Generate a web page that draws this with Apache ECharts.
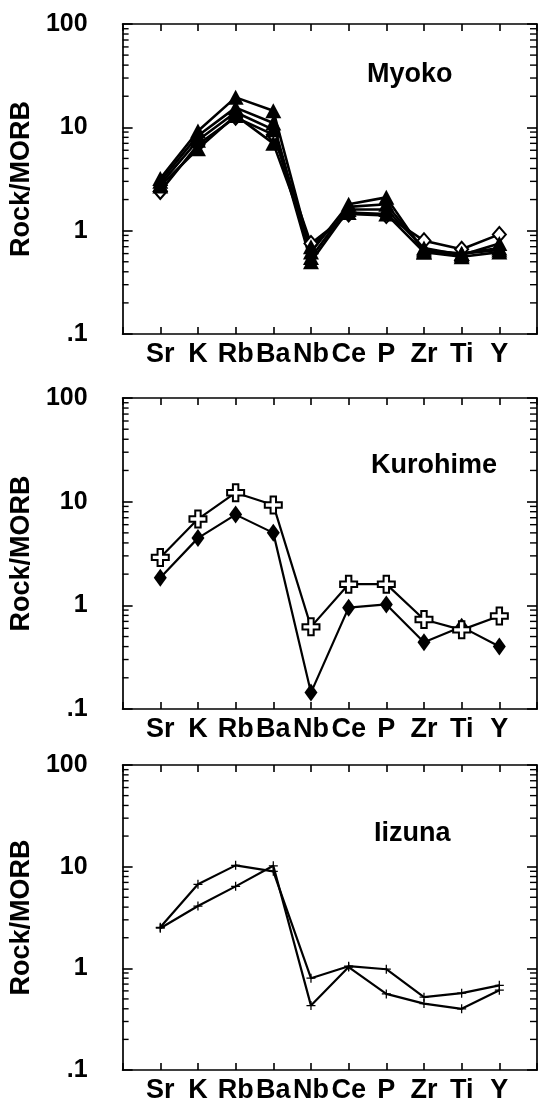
<!DOCTYPE html>
<html>
<head>
<meta charset="utf-8">
<script src="https://cdn.jsdelivr.net/npm/echarts@6/dist/echarts.min.js"></script>
<style>
  html, body { margin: 0; padding: 0; background: #fff; }
  #chart { width: 540px; height: 1104px; }
</style>
</head>
<body>
<div id="chart"></div>
<script>
// Element order along the x axis (incompatible elements normalised to MORB)
const elements = ['Sr', 'K', 'Rb', 'Ba', 'Nb', 'Ce', 'P', 'Zr', 'Ti', 'Y'];

// Myoko samples
const myoko1 = [3.2, 9.2, 19.5, 14.5, 0.62, 1.8, 2.1, 0.62, 0.56, 0.62];
const myoko2 = [3.0, 8.3, 15.5, 11.0, 0.55, 1.7, 1.8, 0.65, 0.60, 0.68];
const myoko3 = [2.8, 7.5, 14.0, 9.5, 0.50, 1.6, 1.6, 0.68, 0.58, 0.75];
const myoko4 = [2.7, 6.2, 13.0, 7.0, 0.70, 1.5, 1.45, 0.62, 0.60, 0.65];
const myoko5 = [2.4, 6.8, 12.5, 8.5, 0.75, 1.45, 1.4, 0.80, 0.66, 0.92];

// Kurohime samples
const kurohimeCross = [2.9, 6.8, 12.2, 9.3, 0.62, 1.6, 1.6, 0.73, 0.58, 0.79];
const kurohimeDiamond = [1.85, 4.45, 7.5, 5.0, 0.144, 0.95, 1.02, 0.44, 0.62, 0.40];

// Iizuna samples
const iizunaA = [2.53, 6.7, 10.3, 9.0, 0.80, 1.05, 0.98, 0.52, 0.57, 0.68];
const iizunaB = [2.48, 4.1, 6.4, 10.2, 0.43, 1.03, 0.56, 0.45, 0.40, 0.61];

// Panel names
const panelNames = ['Myoko', 'Kurohime', 'Iizuna'];

// Log-axis minor tick values (2..9 within each decade)
const minorTickValues = [0.2, 0.3, 0.4, 0.5, 0.6, 0.7, 0.8, 0.9,
                         2, 3, 4, 5, 6, 7, 8, 9,
                         20, 30, 40, 50, 60, 70, 80, 90];

const FONT = "'Liberation Sans', Arial, Helvetica, sans-serif";

const panels = [
  { left: 107, top: 24,  width: 432, height: 310, titleLeft: 362, titleTop: 56 },
  { left: 109, top: 398, width: 433, height: 311, titleLeft: 366, titleTop: 447 },
  { left: 112, top: 765, width: 434, height: 310, titleLeft: 369, titleTop: 815 }
];

const toXY = vals => vals.map((v, i) => [i + 1, v]);

const grid = [], xAxis = [], yAxis = [], series = [], title = [];

panels.forEach((p, g) => {
  grid.push({ left: p.left, top: p.top, width: p.width, height: p.height, containLabel: false });
  title.push({
    text: panelNames[g], left: p.titleLeft, top: p.titleTop,
    textStyle: { fontFamily: FONT, fontWeight: 'bold', fontSize: 27, color: '#000' }
  });
  const xCommon = {
    type: 'value', gridIndex: g, min: 0, max: 11, interval: 1,
    splitLine: { show: false },
    axisLine: { show: true, onZero: false, lineStyle: { color: '#000', width: 1.7 } },
    axisTick: { show: true, inside: true, length: 7, lineStyle: { color: '#000', width: 1.6 } }
  };
  xAxis.push(Object.assign({}, xCommon, {
    position: 'bottom',
    axisLabel: {
      show: true, margin: 7, color: '#000', fontFamily: FONT, fontWeight: 'bold', fontSize: 27,
      formatter: v => elements[v - 1] || ''
    }
  }));
  xAxis.push(Object.assign({}, xCommon, { position: 'top', axisLabel: { show: false } }));

  const yCommon = {
    type: 'log', logBase: 10, gridIndex: g, min: 0.1, max: 100,
    splitLine: { show: false },
    axisLine: { show: true, onZero: false, lineStyle: { color: '#000', width: 1.7 } }
  };
  yAxis.push(Object.assign({}, yCommon, {
    position: 'left',
    name: 'Rock/MORB', nameLocation: 'middle', nameGap: 72,
    nameTextStyle: { fontFamily: FONT, fontWeight: 'bold', fontSize: 27, color: '#000' },
    axisTick: { show: true, inside: true, length: 10, lineStyle: { color: '#000', width: 1.6 } },
    axisLabel: {
      show: true, margin: 35, color: '#000', fontFamily: FONT, fontWeight: 'bold', fontSize: 25,
      formatter: v => (v < 0.5 ? '.1' : String(Math.round(v)))
    }
  }));
  yAxis.push(Object.assign({}, yCommon, {
    position: 'right',
    axisTick: { show: true, inside: true, length: 10, lineStyle: { color: '#000', width: 1.6 } },
    axisLabel: { show: false }
  }));

  // minor ticks on both vertical frame edges
  series.push({
    type: 'custom', xAxisIndex: 2 * g, yAxisIndex: 2 * g, silent: true, clip: false, z: 1,
    data: minorTickValues.map(v => [0, v]),
    renderItem: (params, api) => {
      const v = api.value(1);
      const a = api.coord([0, v]);
      const b = api.coord([11, v]);
      const st = { stroke: '#000', lineWidth: 1.4 };
      return {
        type: 'group',
        children: [
          { type: 'line', shape: { x1: a[0], y1: a[1], x2: a[0] + 6, y2: a[1] }, style: st },
          { type: 'line', shape: { x1: b[0], y1: b[1], x2: b[0] - 7, y2: b[1] }, style: st }
        ]
      };
    }
  });
});

function lineSeries(g, vals, symbol, size, itemStyle, width) {
  return {
    type: 'line', xAxisIndex: 2 * g, yAxisIndex: 2 * g,
    data: toXY(vals), symbol: symbol, symbolSize: size, showSymbol: true,
    lineStyle: { color: '#000', width: width },
    itemStyle: itemStyle, emphasis: { disabled: true }, animation: false, z: 3
  };
}

const solid = { color: '#000', borderColor: '#000', borderWidth: 0 };
const openDiamond = { color: '#fff', borderColor: '#000', borderWidth: 2 };
const openCross = { color: '#fff', borderColor: '#000', borderWidth: 2 };

const greekCross = 'path://M3.4,0H6.6V3.4H10V6.6H6.6V10H3.4V6.6H0V3.4H3.4Z';
const thinPlus = 'path://M4.3,0H5.7V4.3H10V5.7H5.7V10H4.3V5.7H0V4.3H4.3Z';

series.push(lineSeries(0, myoko5, 'diamond', [13, 15], openDiamond, 2.6));
series.push(lineSeries(0, myoko4, 'triangle', [16, 15], solid, 2.6));
series.push(lineSeries(0, myoko3, 'triangle', [16, 15], solid, 2.6));
series.push(lineSeries(0, myoko2, 'triangle', [16, 15], solid, 2.6));
series.push(lineSeries(0, myoko1, 'triangle', [16, 15], solid, 2.6));

series.push(lineSeries(1, kurohimeDiamond, 'diamond', [13, 18], solid, 2.2));
series.push(lineSeries(1, kurohimeCross, greekCross, 17, openCross, 2.2));

series.push(lineSeries(2, iizunaA, thinPlus, 9, solid, 2.2));
series.push(lineSeries(2, iizunaB, thinPlus, 9, solid, 2.2));

const chart = echarts.init(document.getElementById('chart'), null, { renderer: 'canvas' });
chart.setOption({
  backgroundColor: '#fff',
  animation: false,
  title: title,
  grid: grid,
  xAxis: xAxis,
  yAxis: yAxis,
  series: series
});
</script>
</body>
</html>
